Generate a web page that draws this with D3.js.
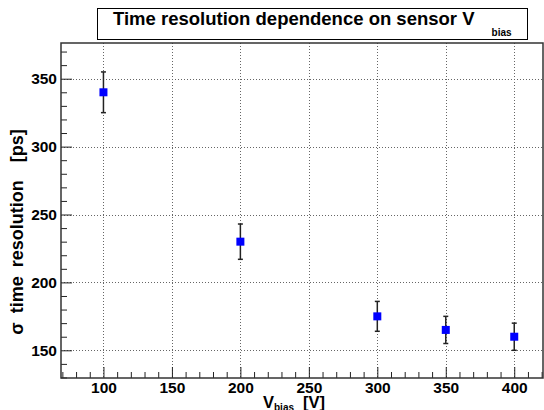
<!DOCTYPE html>
<html>
<head>
<meta charset="utf-8">
<script src="https://cdn.jsdelivr.net/npm/d3@7"></script>
<style>
  body { margin: 0; background: #fff; }
  svg { display: block; font-family: "Liberation Sans", Arial, sans-serif; font-weight: bold; }
</style>
</head>
<body>
<svg id="chart" width="544" height="410"></svg>
<script>
// data
var vbias = [100, 200, 300, 350, 400];
var sigma = [340, 230, 175, 165, 160];
var sigmaErr = [15, 13, 11, 10, 10];

var xTicks = [100, 150, 200, 250, 300, 350, 400];
var yTicks = [150, 200, 250, 300, 350];

var svg = d3.select("#chart");

var frame = { left: 61, right: 543, top: 43, bottom: 378 };

var x = d3.scaleLinear().domain([69, 421]).range([frame.left, frame.right]);
var y = d3.scaleLinear().domain([129.6, 376.3]).range([frame.bottom, frame.top]);

// grid
var grid = svg.append("g").attr("class", "grid")
    .attr("stroke", "#666").attr("stroke-width", 1).attr("stroke-dasharray", "1,2");
grid.selectAll("line.v").data(xTicks).enter().append("line")
    .attr("class", "v")
    .attr("x1", function (d) { return Math.round(x(d)) + 0.5; })
    .attr("x2", function (d) { return Math.round(x(d)) + 0.5; })
    .attr("y1", frame.top).attr("y2", frame.bottom);
grid.selectAll("line.h").data(yTicks).enter().append("line")
    .attr("class", "h")
    .attr("y1", function (d) { return Math.round(y(d)) + 0.5; })
    .attr("y2", function (d) { return Math.round(y(d)) + 0.5; })
    .attr("x1", frame.left).attr("x2", frame.right);

// minor ticks (every 10) pointing into the frame
var xMinor = d3.range(70, 421, 10).filter(function (d) { return d % 50 != 0; });
var yMinor = d3.range(130, 377, 10).filter(function (d) { return d % 50 != 0; });

svg.append("g")
    .attr("transform", "translate(0," + frame.bottom + ")")
    .call(d3.axisBottom(x).tickValues(xMinor).tickSize(-6).tickFormat(""))
    .call(function (g) { g.select(".domain").remove(); });
svg.append("g")
    .attr("transform", "translate(" + frame.left + ",0)")
    .call(d3.axisLeft(y).tickValues(yMinor).tickSize(-6).tickFormat(""))
    .call(function (g) { g.select(".domain").remove(); });

// major ticks + labels
var xAxis = svg.append("g")
    .attr("transform", "translate(0," + frame.bottom + ")")
    .call(d3.axisBottom(x).tickValues(xTicks).tickSize(-11).tickPadding(4).tickFormat(d3.format("d")));
var yAxis = svg.append("g")
    .attr("transform", "translate(" + frame.left + ",0)")
    .call(d3.axisLeft(y).tickValues(yTicks).tickSize(-11).tickPadding(4).tickFormat(d3.format("d")));

[xAxis, yAxis].forEach(function (g) {
    g.select(".domain").remove();
    g.selectAll("text").attr("font-size", 15.5).attr("font-family", null).attr("fill", "#000");
});
svg.selectAll(".tick line").attr("stroke", "#222");

// frame
svg.append("rect")
    .attr("x", frame.left).attr("y", frame.top)
    .attr("width", frame.right - frame.left).attr("height", frame.bottom - frame.top)
    .attr("fill", "none").attr("stroke", "#333").attr("stroke-width", 1.5);

// error bars
var eb = svg.append("g").attr("stroke", "#222").attr("stroke-width", 1.5);
vbias.forEach(function (v, i) {
    var cx = x(v);
    var top = y(sigma[i] + sigmaErr[i]);
    var bot = y(sigma[i] - sigmaErr[i]);
    eb.append("line").attr("x1", cx).attr("x2", cx).attr("y1", top).attr("y2", bot);
    eb.append("line").attr("x1", cx - 2.5).attr("x2", cx + 2.5).attr("y1", top).attr("y2", top);
    eb.append("line").attr("x1", cx - 2.5).attr("x2", cx + 2.5).attr("y1", bot).attr("y2", bot);
});

// markers
svg.append("g").selectAll("rect").data(vbias).enter().append("rect")
    .attr("x", function (d) { return x(d) - 4; })
    .attr("y", function (d, i) { return y(sigma[i]) - 4; })
    .attr("width", 8).attr("height", 8)
    .attr("fill", "#0000ff");

// title box
svg.append("rect")
    .attr("x", 97.5).attr("y", 8.5).attr("width", 430).attr("height", 31)
    .attr("fill", "#fff").attr("stroke", "#000").attr("stroke-width", 1);
var title = svg.append("text")
    .attr("x", 113).attr("y", 25)
    .attr("font-size", 18.5);
title.append("tspan").text("Time resolution dependence on sensor V");
title.append("tspan").attr("dx", 17).attr("dy", 11).attr("font-size", 10).text("bias");

// x axis title
var xt = svg.append("text").attr("x", 263).attr("y", 407.5).attr("font-size", 16.5);
xt.append("tspan").text("V");
xt.append("tspan").attr("dy", 3).attr("font-size", 10).text("bias");
xt.append("tspan").attr("dy", -3).attr("dx", 9).text("[V]");

// y axis title
svg.append("text")
    .attr("transform", "translate(23,232) rotate(-90)")
    .attr("text-anchor", "middle")
    .attr("font-size", 18)
    .style("white-space", "pre")
    .style("word-spacing", "4px")
    .text("σ time resolution  [ps]");
</script>
</body>
</html>
